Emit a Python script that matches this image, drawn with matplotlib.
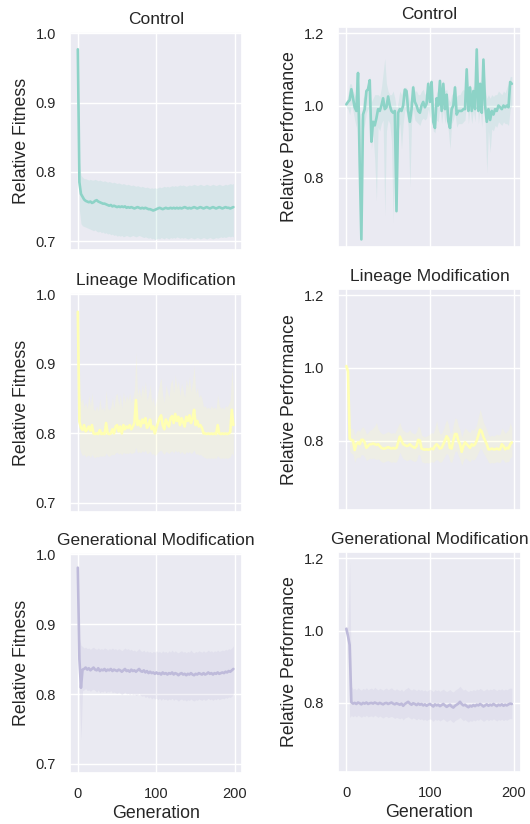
import matplotlib
matplotlib.use("Agg")
import matplotlib.pyplot as plt
import seaborn as sns

sns.set_theme(style="darkgrid")
plt.rcParams['font.family'] = ['Liberation Sans', 'DejaVu Sans']

# generations (every second one)
gens = list(range(0, 200, 2))

# ---- Relative Fitness ----
ctrl_fit = [.977, .785, .768, .764, .760, .758, .757, .756, .757, .755,
            .756, .758, .759, .757, .756, .755, .754, .754, .753, .752,
            .751, .752, .750, .751, .750, .749, .750, .749, .750, .749,
            .750, .748, .749, .748, .749, .748, .747, .748, .749, .748,
            .747, .748, .747, .748, .747, .746, .746, .745, .744, .745,
            .746, .747, .748, .747, .746, .747, .748, .747, .747, .748,
            .747, .748, .747, .748, .747, .748, .747, .748, .749, .748,
            .747, .748, .747, .748, .749, .748, .747, .748, .749, .748,
            .747, .748, .749, .748, .747, .748, .749, .748, .747, .748,
            .749, .748, .747, .748, .749, .748, .748, .747, .748, .749]
ctrl_fit_hi = [.979, .815, .795, .792, .790, .790, .789, .788, .789, .788,
               .788, .789, .788, .787, .788, .787, .786, .787, .786, .785,
               .786, .785, .784, .785, .784, .783, .784, .783, .782, .783,
               .782, .781, .782, .781, .780, .781, .780, .779, .780, .779,
               .778, .779, .778, .777, .778, .777, .776, .777, .776, .777,
               .776, .777, .778, .777, .778, .779, .778, .779, .778, .779,
               .780, .779, .780, .779, .780, .781, .780, .781, .780, .779,
               .780, .781, .780, .781, .782, .781, .780, .781, .782, .781,
               .780, .781, .782, .781, .780, .781, .782, .781, .780, .781,
               .782, .781, .780, .781, .782, .781, .782, .783, .782, .783]
ctrl_fit_lo = [.975, .745, .725, .722, .721, .720, .719, .718, .717, .716,
               .715, .716, .714, .713, .714, .712, .713, .711, .712, .710,
               .711, .709, .710, .708, .709, .707, .708, .707, .708, .706,
               .707, .708, .707, .706, .707, .708, .707, .706, .707, .708,
               .707, .706, .705, .706, .705, .704, .705, .703, .704, .702,
               .703, .704, .703, .705, .704, .703, .705, .704, .703, .705,
               .704, .705, .704, .706, .705, .704, .705, .704, .705, .704,
               .703, .704, .705, .704, .703, .704, .705, .704, .703, .704,
               .705, .704, .703, .704, .705, .704, .703, .704, .705, .704,
               .705, .706, .705, .706, .705, .706, .707, .706, .707, .706]

lin_fit = [.975, .817, .808, .805, .812, .803, .806, .810, .804, .812,
           .800, .799, .800, .799, .805, .799, .800, .799, .815, .800,
           .799, .800, .806, .800, .810, .812, .803, .810, .800, .812,
           .806, .810, .808, .812, .806, .810, .815, .848, .812, .818,
           .810, .820, .815, .822, .808, .812, .820, .806, .810, .800,
           .808, .815, .822, .826, .812, .806, .820, .815, .810, .822,
           .825, .815, .828, .818, .824, .812, .822, .816, .810, .824,
           .818, .826, .815, .822, .834, .812, .818, .810, .812, .808,
           .800, .800, .799, .800, .799, .800, .799, .800, .799, .812,
           .800, .799, .800, .799, .800, .799, .800, .802, .834, .812]
lin_fit_hi = [.978, .860, .845, .850, .838, .845, .836, .855, .840, .858,
              .835, .833, .840, .832, .850, .834, .838, .832, .862, .836,
              .834, .838, .852, .836, .855, .858, .840, .856, .836, .860,
              .845, .855, .848, .858, .845, .852, .862, .916, .855, .866,
              .852, .870, .858, .875, .848, .856, .870, .845, .852, .838,
              .848, .860, .872, .880, .855, .845, .870, .860, .852, .872,
              .878, .858, .885, .865, .876, .855, .872, .862, .852, .878,
              .866, .882, .860, .875, .898, .858, .866, .852, .856, .850,
              .838, .840, .836, .838, .835, .840, .836, .838, .835, .856,
              .840, .836, .838, .835, .840, .838, .842, .848, .892, .860]
lin_fit_lo = [.972, .780, .772, .768, .770, .766, .768, .769, .765, .770,
              .766, .765, .767, .766, .768, .767, .768, .767, .772, .768,
              .767, .769, .770, .769, .772, .773, .770, .772, .769, .773,
              .771, .772, .771, .773, .771, .772, .773, .780, .772, .774,
              .772, .775, .773, .776, .771, .772, .775, .770, .771, .768,
              .770, .773, .775, .776, .772, .770, .774, .773, .771, .774,
              .775, .772, .776, .773, .775, .771, .774, .772, .770, .774,
              .772, .774, .771, .773, .776, .770, .771, .769, .770, .768,
              .766, .765, .764, .765, .764, .765, .764, .765, .764, .768,
              .765, .764, .765, .764, .765, .764, .765, .766, .772, .768]

gen_fit = [.981, .850, .809, .835, .836, .838, .835, .837, .834, .836,
           .838, .835, .834, .837, .833, .835, .834, .836, .833, .835,
           .834, .836, .833, .835, .834, .833, .835, .834, .832, .834,
           .836, .833, .834, .832, .835, .833, .834, .832, .834, .836,
           .833, .832, .834, .831, .833, .830, .832, .830, .831, .829,
           .831, .829, .830, .828, .831, .829, .830, .828, .830, .829,
           .831, .828, .830, .829, .827, .829, .830, .828, .829, .827,
           .829, .828, .830, .828, .827, .829, .828, .830, .829, .828,
           .830, .828, .829, .831, .829, .830, .828, .830, .829, .831,
           .829, .830, .831, .830, .832, .831, .833, .832, .834, .836]
gen_fit_hi = [.983, .880, .870, .868, .866, .867, .865, .866, .864, .866,
              .867, .865, .864, .866, .864, .865, .864, .866, .865, .863,
              .865, .864, .866, .864, .865, .863, .865, .864, .862, .864,
              .866, .864, .865, .863, .864, .862, .863, .861, .863, .865,
              .862, .861, .863, .860, .862, .860, .861, .859, .861, .860,
              .862, .860, .861, .859, .862, .860, .861, .859, .862, .860,
              .863, .860, .862, .860, .859, .861, .862, .860, .861, .859,
              .861, .860, .863, .860, .859, .861, .860, .862, .861, .860,
              .862, .860, .861, .863, .861, .862, .860, .862, .861, .863,
              .861, .862, .863, .862, .864, .863, .865, .864, .866, .869]
gen_fit_lo = [.979, .800, .735, .805, .806, .808, .805, .806, .804, .806,
              .807, .805, .803, .806, .802, .804, .803, .805, .802, .804,
              .803, .805, .802, .803, .802, .801, .803, .801, .799, .801,
              .803, .800, .801, .799, .801, .799, .800, .798, .799, .801,
              .798, .797, .798, .795, .797, .794, .796, .793, .795, .793,
              .794, .792, .794, .791, .794, .792, .793, .791, .793, .792,
              .794, .791, .793, .792, .790, .792, .793, .791, .792, .790,
              .792, .791, .793, .791, .790, .792, .791, .793, .792, .791,
              .793, .791, .792, .794, .792, .793, .791, .793, .792, .794,
              .792, .793, .794, .793, .795, .794, .796, .795, .797, .800]

# ---- Relative Performance ----
ctrl_perf = [1.003, 1.010, 1.015, 1.045, 1.020, .995, .985, 1.090, .840, .630,
             .975, .990, 1.040, 1.045, 1.070, .900, .955, .945, .965, .990,
             .985, 1.000, 1.020, .990, .995, 1.025, 1.000, .985, .980, .985,
             .708, .980, .990, .985, 1.000, 1.044, 1.040, .985, .955, .990,
             1.050, 1.010, 1.000, .985, .980, 1.000, 1.010, .995, 1.005, 1.060,
             1.010, 1.065, .955, .938, 1.020, 1.000, 1.068, .985, 1.060, .990,
             1.030, .957, .938, .990, 1.000, 1.050, .975, .985, .985, .985,
             .990, .990, 1.100, .985, 1.050, .985, 1.040, .990, 1.155, .985,
             1.060, .980, 1.127, 1.000, .955, .990, .960, .985, .975, .990,
             .985, 1.000, .995, .990, 1.000, .995, 1.000, .995, 1.065, 1.060]
ctrl_perf_hi = [1.010, 1.030, 1.060, 1.060, 1.040, 1.030, 1.020, 1.100, .980, .960,
                1.020, 1.030, 1.050, 1.060, 1.080, 1.010, 1.020, 1.030, 1.030, 1.030,
                1.025, 1.050, 1.090, 1.130, 1.060, 1.040, 1.030, 1.030, 1.040, 1.020,
                .990, 1.010, 1.040, 1.030, 1.045, 1.050, 1.050, 1.030, 1.010, 1.030,
                1.060, 1.040, 1.040, 1.030, 1.030, 1.040, 1.045, 1.030, 1.040, 1.070,
                1.050, 1.075, 1.010, 1.000, 1.040, 1.030, 1.075, 1.040, 1.070, 1.040,
                1.045, 1.020, 1.010, 1.030, 1.035, 1.060, 1.025, 1.030, 1.030, 1.040,
                1.045, 1.040, 1.105, 1.040, 1.060, 1.040, 1.055, 1.045, 1.160, 1.040,
                1.070, 1.040, 1.135, 1.050, 1.020, 1.030, 1.020, 1.030, 1.025, 1.030,
                1.030, 1.040, 1.035, 1.030, 1.040, 1.035, 1.050, 1.060, 1.080, 1.080]
ctrl_perf_lo = [.995, .990, .975, 1.000, .985, .960, .940, 1.000, .820, .628,
                .930, .950, .980, .990, 1.000, .880, .920, .850, .736, .940,
                .930, .950, .960, .695, .930, .960, .950, .900, .676, .940,
                .700, .930, .950, .880, .950, .990, .980, .940, .775, .950,
                .990, .960, .955, .950, .945, .960, .965, .960, .965, .990,
                .965, 1.000, .930, .925, .960, .955, 1.000, .950, .990, .950,
                .980, .930, .880, .950, .960, .980, .940, .950, .950, .950,
                .955, .960, 1.020, .950, .990, .950, .985, .955, 1.040, .950,
                .995, .940, 1.030, .960, .814, .930, .870, .935, .930, .945,
                .940, .955, .950, .945, .955, .950, .950, .945, .990, 1.000]

lin_perf = [1.005, .990, .805, .802, .800, .774, .790, .795, .790, .802,
            .802, .795, .780, .785, .790, .790, .792, .790, .788, .790,
            .785, .780, .778, .778, .780, .782, .780, .778, .780, .778,
            .780, .795, .811, .800, .790, .788, .785, .786, .790, .785,
            .782, .780, .785, .802, .800, .778, .776, .775, .776, .775,
            .776, .778, .776, .785, .790, .785, .778, .780, .790, .800,
            .812, .805, .780, .778, .800, .818, .818, .800, .790, .769,
            .785, .795, .790, .785, .780, .790, .786, .790, .800, .815,
            .830, .825, .810, .800, .790, .776, .776, .778, .776, .776,
            .778, .776, .776, .790, .785, .776, .780, .778, .790, .795]
lin_perf_hi = [1.010, 1.005, .830, .835, .832, .815, .825, .830, .825, .835,
               .838, .830, .818, .822, .828, .830, .835, .840, .850, .832,
               .825, .820, .818, .820, .822, .825, .822, .820, .822, .820,
               .830, .840, .850, .835, .828, .825, .822, .825, .830, .822,
               .820, .818, .825, .840, .835, .815, .812, .810, .812, .815,
               .818, .822, .820, .835, .855, .830, .818, .820, .830, .845,
               .858, .845, .822, .820, .845, .862, .860, .840, .830, .810,
               .825, .835, .830, .825, .822, .832, .828, .835, .845, .865,
               .886, .870, .850, .840, .830, .815, .812, .815, .812, .815,
               .818, .815, .818, .835, .828, .820, .825, .830, .850, .835]
lin_perf_lo = [1.000, .975, .770, .765, .762, .740, .752, .755, .752, .762,
               .760, .755, .745, .748, .752, .750, .752, .750, .748, .750,
               .746, .742, .740, .742, .744, .745, .742, .740, .742, .740,
               .742, .752, .768, .758, .750, .748, .745, .746, .750, .746,
               .744, .742, .746, .762, .760, .742, .740, .738, .740, .738,
               .740, .742, .740, .745, .748, .745, .740, .742, .750, .758,
               .765, .760, .742, .740, .755, .770, .772, .758, .748, .732,
               .745, .752, .750, .745, .742, .750, .746, .750, .758, .768,
               .778, .775, .765, .758, .750, .740, .738, .740, .738, .740,
               .742, .740, .740, .750, .746, .740, .742, .742, .752, .756]

gen_perf = [1.005, .985, .960, .802, .798, .800, .797, .801, .799, .796,
            .800, .798, .801, .797, .799, .800, .798, .801, .799, .797,
            .800, .798, .796, .799, .800, .797, .799, .801, .798, .796,
            .799, .797, .795, .798, .792, .797, .800, .803, .798, .795,
            .799, .797, .794, .798, .795, .797, .793, .796, .792, .795,
            .797, .794, .790, .796, .793, .795, .791, .794, .797, .793,
            .789, .792, .795, .790, .787, .792, .795, .798, .803, .797,
            .793, .795, .791, .788, .792, .790, .794, .791, .795, .793,
            .797, .794, .790, .793, .796, .792, .795, .793, .797, .794,
            .791, .795, .793, .796, .792, .795, .793, .796, .798, .797]
gen_perf_hi = [1.010, 1.010, 1.190, .845, .838, .840, .836, .842, .838, .835,
               .840, .837, .842, .836, .839, .841, .837, .843, .839, .836,
               .840, .838, .835, .839, .841, .836, .839, .842, .837, .835,
               .839, .836, .834, .838, .832, .837, .840, .843, .838, .835,
               .839, .837, .834, .838, .835, .837, .833, .836, .832, .835,
               .838, .835, .831, .837, .834, .836, .832, .835, .838, .834,
               .831, .834, .837, .832, .830, .835, .838, .841, .846, .840,
               .835, .838, .834, .831, .835, .833, .837, .834, .838, .836,
               .840, .837, .833, .836, .839, .835, .838, .836, .840, .837,
               .834, .838, .836, .839, .835, .838, .836, .839, .841, .840]
gen_perf_lo = [1.000, .960, .760, .765, .762, .765, .761, .766, .763, .760,
               .764, .762, .766, .761, .763, .764, .761, .766, .763, .760,
               .764, .761, .758, .762, .763, .759, .761, .763, .760, .757,
               .760, .758, .756, .759, .753, .758, .760, .762, .758, .755,
               .759, .756, .753, .757, .754, .756, .752, .755, .751, .754,
               .756, .753, .749, .755, .752, .754, .750, .753, .756, .752,
               .748, .751, .754, .749, .746, .751, .754, .756, .760, .755,
               .751, .754, .750, .747, .751, .749, .753, .750, .754, .752,
               .756, .753, .749, .752, .755, .751, .754, .752, .756, .753,
               .750, .754, .752, .755, .751, .754, .752, .755, .757, .756]

titles = ["Control", "Lineage Modification", "Generational Modification"]
colors = ["#8dd3c7", "#ffffb3", "#bebada"]

fit_series = [(ctrl_fit, ctrl_fit_lo, ctrl_fit_hi),
              (lin_fit, lin_fit_lo, lin_fit_hi),
              (gen_fit, gen_fit_lo, gen_fit_hi)]
perf_series = [(ctrl_perf, ctrl_perf_lo, ctrl_perf_hi),
               (lin_perf, lin_perf_lo, lin_perf_hi),
               (gen_perf, gen_perf_lo, gen_perf_hi)]

W, H = 530, 824
fig = plt.figure(figsize=(W / 100, H / 100), dpi=100)

# pixel boxes (top, bottom) per row
left_rows = [(32, 250), (293, 512), (553, 773)]
right_rows = [(27, 247), (289, 510), (552, 772)]


def make_ax(x0, w, top, bottom):
    return fig.add_axes([x0 / W, 1 - bottom / H, w / W, (bottom - top) / H])


for i in range(3):
    axl = make_ax(70, 172, *left_rows[i])
    axr = make_ax(338, 183, *right_rows[i])
    for ax, (m, lo, hi), ylab, lims, ticks in [
            (axl, fit_series[i], "Relative Fitness", (0.687, 1.002), [0.7, 0.8, 0.9, 1.0]),
            (axr, perf_series[i], "Relative Performance", (0.609, 1.217), [0.8, 1.0, 1.2])]:
        ax.fill_between(gens, lo, hi, color=colors[i], alpha=0.2, linewidth=0)
        ax.plot(gens, m, color=colors[i], linewidth=1.9)
        ax.set_xlim(-9.95, 208.95)
        ax.set_ylim(*lims)
        ax.set_yticks(ticks)
        ax.set_xticks([0, 100, 200])
        ax.set_title(titles[i], fontsize=12.5, color=".15", pad=6)
        ax.set_ylabel(ylab, fontsize=12.8, color=".15")
        ax.tick_params(length=0, pad=10, labelsize=10.5, labelcolor=".15")
        if i < 2:
            ax.set_xticklabels([])
        else:
            ax.set_xlabel("Generation", fontsize=12.8, color=".15", labelpad=3)

fig.savefig("out.png", dpi=100)
